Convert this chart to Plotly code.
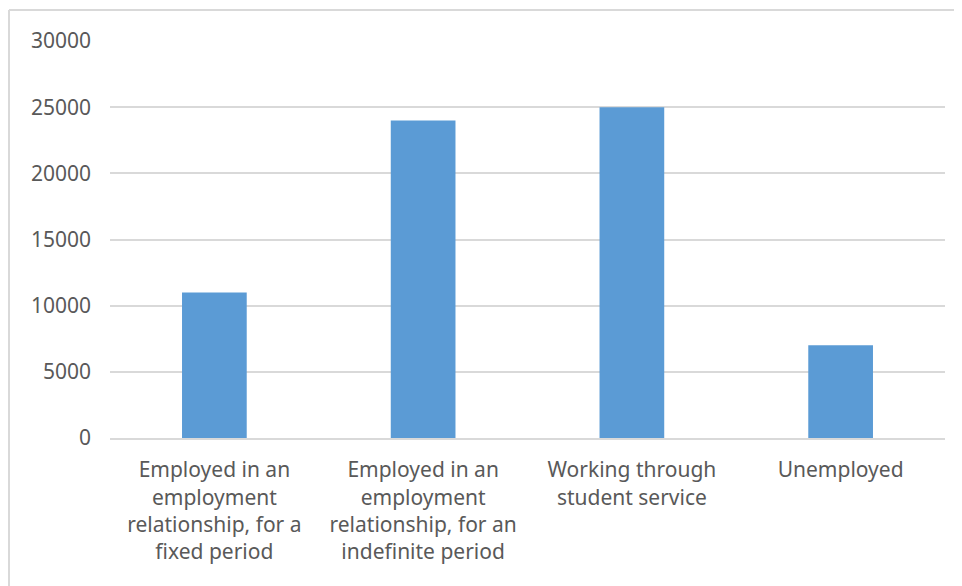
import plotly.graph_objects as go

categories = [
    "Employed in an<br>employment<br>relationship, for a<br>fixed period",
    "Employed in an<br>employment<br>relationship, for an<br>indefinite period",
    "Working through<br>student service",
    "Unemployed",
]
values = [11000, 24000, 25000, 7000]
y_ticks = [0, 5000, 10000, 15000, 20000, 25000, 30000]

OFF = 8  # default page body margin
W, H = 962 - OFF, 586 - OFF
ml, mr, mt, mb = 110 - OFF, 17, 41 - OFF, 148
pw, ph = W - ml - mr, H - mt - mb

def px_x(x):
    return (x - OFF - ml) / pw

def px_y(y):
    return (H - mb - (y - OFF)) / ph

fig = go.Figure(go.Bar(x=categories, y=values, marker=dict(color="#5B9BD5", line=dict(width=0))))

fig.update_layout(
    width=W, height=H,
    margin=dict(l=ml, r=mr, t=mt, b=mb, autoexpand=False),
    paper_bgcolor="white", plot_bgcolor="white",
    bargap=0.69,
    showlegend=False,
    font=dict(family="Noto Sans, Open Sans, sans-serif", color="#595959", size=21),
    xaxis=dict(showgrid=False, showline=True, linecolor="#d9d9d9", linewidth=2,
               tickfont=dict(size=21), ticks="", fixedrange=True, ticklabelstandoff=12),
    yaxis=dict(range=[0, 30000], tickvals=y_ticks, ticktext=[str(v) for v in y_ticks],
               showgrid=True, gridcolor="#d9d9d9", gridwidth=2, zeroline=False,
               showline=False, ticks="", tickfont=dict(size=21), ticklabelstandoff=18),
    shapes=[
        dict(type="line", xref="paper", yref="paper", x0=px_x(9), x1=px_x(962), y0=px_y(10), y1=px_y(10),
             line=dict(color="#d9d9d9", width=2)),
        dict(type="line", xref="paper", yref="paper", x0=px_x(9), x1=px_x(9), y0=px_y(10), y1=px_y(590),
             line=dict(color="#d9d9d9", width=2)),
    ],
)

fig.write_html("out.html")
